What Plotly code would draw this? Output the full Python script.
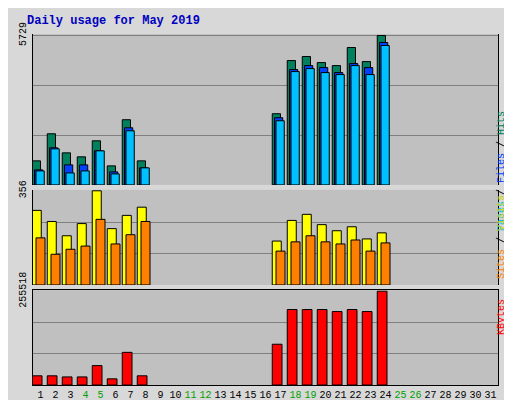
import plotly.graph_objects as go

days = list(range(1, 32))
weekends = [4, 5, 11, 12, 18, 19, 25, 26]

hits = [923, 1961, 1230, 1077, 1692, 730, 2500, 923, 0, 0, 0, 0, 0, 0, 0, 0,
        2730, 4768, 4922, 4691, 4575, 5268, 4729, 5729, 0, 0, 0, 0, 0, 0, 0]
files = [577, 1423, 769, 769, 1307, 500, 2192, 654, 0, 0, 0, 0, 0, 0, 0, 0,
         2576, 4422, 4575, 4499, 4307, 4653, 4499, 5460, 0, 0, 0, 0, 0, 0, 0]
pages = [538, 1384, 461, 538, 1307, 423, 2076, 654, 0, 0, 0, 0, 0, 0, 0, 0,
         2461, 4345, 4460, 4307, 4230, 4575, 4230, 5345, 0, 0, 0, 0, 0, 0, 0]
visits = [282, 240, 186, 232, 356, 213, 263, 294, 0, 0, 0, 0, 0, 0, 0, 0,
          166, 244, 267, 228, 205, 220, 174, 197, 0, 0, 0, 0, 0, 0, 0]
sites = [178, 116, 135, 147, 248, 155, 190, 240, 0, 0, 0, 0, 0, 0, 0, 0,
         128, 163, 186, 163, 155, 170, 128, 159, 0, 0, 0, 0, 0, 0, 0]
kbytes = [25000, 25000, 22000, 22000, 52800, 16700, 88900, 25000, 0, 0, 0, 0, 0, 0, 0, 0,
          111000, 205500, 205500, 205500, 200000, 205500, 200000, 255518, 0, 0, 0, 0, 0, 0, 0]

FONT = "Liberation Mono"
fig = go.Figure()

def bars(y, color, offset, width, yaxis):
    # empty days get no bar (avoid drawing outlines at zero)
    y = [v if v else None for v in y]
    fig.add_trace(go.Bar(x=days, y=y, marker=dict(color=color, line=dict(color="black", width=1)),
                         offset=offset, width=width, yaxis=yaxis, xaxis="x"))

bars(hits, "#00805C", -0.55, 0.55, "y3")
bars(files, "#0040FF", -0.4, 0.55, "y3")
bars(pages, "#00C0FF", -0.3, 0.55, "y3")
bars(visits, "#FFFF00", -0.55, 0.6, "y2")
bars(sites, "#FF8000", -0.3, 0.6, "y2")
bars(kbytes, "#FF0000", -0.55, 0.65, "y")

def yax(mx, dom):
    return dict(domain=dom, range=[0, mx * 1.01], tickvals=[mx / 3, mx * 2 / 3, mx],
                ticktext=["", "", str(mx)], tickangle=-90, gridcolor="#808080",
                showline=True, linecolor="black", mirror=True, zeroline=False, ticks="",
                automargin=False, ticklabelstandoff=2,
                tickfont=dict(family=FONT, size=10, color="black"), fixedrange=True)

ticktext = [f'<span style="color:#00A000">{d}</span>' if d in weekends else str(d) for d in days]

fig.update_layout(
    width=512, height=400, barmode="overlay", showlegend=False,
    paper_bgcolor="#D8D8D8", plot_bgcolor="#C0C0C0",
    margin=dict(l=25, r=22, t=26, b=23),
    font=dict(family=FONT, size=11, color="black"),
    xaxis=dict(range=[0.5, 31.5], tickvals=days, ticktext=ticktext, showgrid=False,
               showline=True, linecolor="black", mirror=True, ticks="", tickangle=0,
               automargin=False, tickfont=dict(family=FONT, size=10), anchor="y"),
    yaxis=yax(255518, [0, 0.27]),
    yaxis2=yax(356, [0.285, 0.556]),
    yaxis3=yax(5729, [0.57, 1]),
    annotations=[
        dict(text="<b>Daily usage for May 2019</b>", x=0, y=1, xref="paper", yref="paper",
             xshift=-8, yshift=22, xanchor="left", yanchor="top", showarrow=False,
             font=dict(family=FONT, size=12, color="#0000C0")),
        dict(text='<span style="color:#00C0FF">Pages</span> / <span style="color:#0040FF">Files</span> / <span style="color:#00805C">Hits</span>',
             x=1.0, xshift=11, y=0.785, xref="paper", yref="paper", textangle=-90, showarrow=False,
             font=dict(family=FONT, size=10)),
        dict(text='<span style="color:#FF8000">Sites</span> / <span style="color:#D0D000">Visits</span>',
             x=1.0, xshift=11, y=0.42, xref="paper", yref="paper", textangle=-90, showarrow=False,
             font=dict(family=FONT, size=10)),
        dict(text='<span style="color:#FF0000">KBytes</span>',
             x=1.0, xshift=11, y=0.135, xref="paper", yref="paper", textangle=-90, showarrow=False,
             font=dict(family=FONT, size=10)),
    ],
)

fig.write_html("out.html")
